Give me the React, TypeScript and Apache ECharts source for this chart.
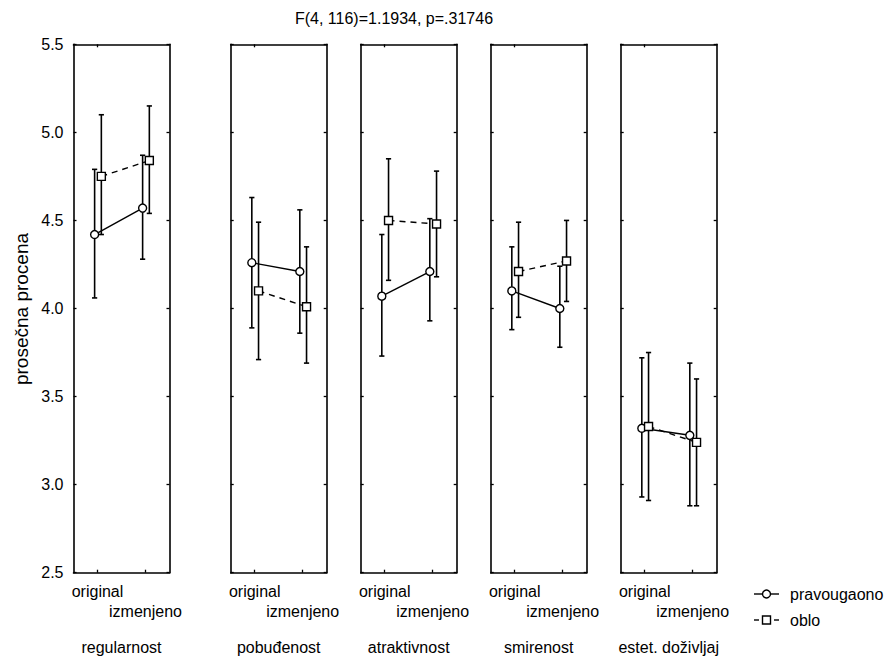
import React, { useEffect, useRef } from "react";
import * as echarts from "echarts";

const panelNames = ["regularnost", "pobuđenost", "atraktivnost", "smirenost", "estet. doživljaj"];
const conditions = ["original", "izmenjeno"];
const yTicks = [2.5, 5.5, 0.5]; // min, max, interval

// pravougaono (circles, solid line)
const pravMean = [[4.42, 4.57], [4.26, 4.21], [4.07, 4.21], [4.10, 4.00], [3.32, 3.28]];
const pravLow = [[4.06, 4.28], [3.89, 3.86], [3.73, 3.93], [3.88, 3.78], [2.93, 2.88]];
const pravHigh = [[4.79, 4.87], [4.63, 4.56], [4.42, 4.51], [4.35, 4.24], [3.72, 3.69]];

// oblo (squares, dashed line)
const obloMean = [[4.75, 4.84], [4.10, 4.01], [4.50, 4.48], [4.21, 4.27], [3.33, 3.24]];
const obloLow = [[4.42, 4.54], [3.71, 3.69], [4.16, 4.18], [3.95, 4.04], [2.91, 2.88]];
const obloHigh = [[5.10, 5.15], [4.49, 4.35], [4.85, 4.78], [4.49, 4.50], [3.75, 3.60]];

const title = "F(4, 116)=1.1934, p=.31746";
const yName = "prosečna procena";
const legendNames = ["pravougaono", "oblo"];

const FONT = "'Liberation Sans', Arial, sans-serif";
const panelLefts = [73.5, 230.7, 360.7, 490.7, 620.7];
const panelW = 96;
const panelTop = 44.3;
const panelH = 528.4;
const dodgeCircle = -0.12;
const dodgeSquare = 0.16;

function errorBarRender(params: any, api: any) {
  const x = api.value(0);
  const lo = api.value(1);
  const hi = api.value(2);
  const p1 = api.coord([x, hi]);
  const p2 = api.coord([x, lo]);
  const cap = 2.6;
  const st = { stroke: "#000", lineWidth: 1.6 };
  return {
    type: "group",
    children: [
      { type: "line", shape: { x1: p1[0], y1: p1[1], x2: p2[0], y2: p2[1] }, style: st },
      { type: "line", shape: { x1: p1[0] - cap, y1: p1[1], x2: p1[0] + cap, y2: p1[1] }, style: st },
      { type: "line", shape: { x1: p2[0] - cap, y1: p2[1], x2: p2[0] + cap, y2: p2[1] }, style: st },
    ],
  };
}

export default function App() {
  const ref = useRef<HTMLDivElement>(null);
  useEffect(() => {
    if (!ref.current) return;
    const chart = echarts.init(ref.current, null, { renderer: "svg" });
    const grids: any[] = [];
    const xAxes: any[] = [];
    const yAxes: any[] = [];
    const series: any[] = [];
    const axisLine = { show: true, lineStyle: { color: "#000", width: 1.6 } };
    const axisTick = { show: true, inside: true, length: 3, lineStyle: { color: "#000", width: 1.3 } };

    panelNames.forEach((name, i) => {
      grids.push({
        left: panelLefts[i],
        top: panelTop,
        width: panelW,
        height: panelH,
        containLabel: false,
        outerBoundsMode: "none",
      });
      xAxes.push({
        type: "category",
        gridIndex: i,
        position: "bottom",
        data: conditions,
        axisLine,
        axisTick: { ...axisTick, alignWithLabel: true },
        axisLabel: {
          interval: 0,
          color: "#000",
          fontSize: 16,
          fontFamily: FONT,
          lineHeight: 20,
          margin: 9,
          formatter: (v: string, idx: number) => (idx === 1 ? "\n" + v : v),
        },
        name,
        nameLocation: "middle",
        nameGap: 67,
        nameTextStyle: { color: "#000", fontSize: 16, fontFamily: FONT },
        splitLine: { show: false },
      });
      xAxes.push({
        type: "category",
        gridIndex: i,
        position: "top",
        data: conditions,
        axisLine,
        axisTick: { ...axisTick, alignWithLabel: true },
        axisLabel: { show: false },
        splitLine: { show: false },
      });
      xAxes.push({ type: "value", gridIndex: i, min: 0, max: 4, show: false });
      yAxes.push({
        type: "value",
        gridIndex: i,
        position: "left",
        min: yTicks[0],
        max: yTicks[1],
        interval: yTicks[2],
        axisLine,
        axisTick,
        splitLine: { show: false },
        axisLabel: {
          show: i === 0,
          color: "#000",
          fontSize: 16,
          fontFamily: FONT,
          margin: 10,
          formatter: (v: number) => v.toFixed(1),
        },
      });
      yAxes.push({
        type: "value",
        gridIndex: i,
        position: "right",
        min: yTicks[0],
        max: yTicks[1],
        interval: yTicks[2],
        axisLine,
        axisTick,
        splitLine: { show: false },
        axisLabel: { show: false },
      });
      const xi = i * 3 + 2;
      const yi = i * 2;
      const circleX = conditions.map((_, k) => 1 + 2 * k + dodgeCircle);
      const squareX = conditions.map((_, k) => 1 + 2 * k + dodgeSquare);
      series.push({
        type: "custom",
        xAxisIndex: xi,
        yAxisIndex: yi,
        renderItem: errorBarRender,
        encode: { x: 0, y: [1, 2] },
        data: conditions.map((_, k) => [circleX[k], pravLow[i][k], pravHigh[i][k]]),
        z: 2,
      });
      series.push({
        type: "custom",
        xAxisIndex: xi,
        yAxisIndex: yi,
        renderItem: errorBarRender,
        encode: { x: 0, y: [1, 2] },
        data: conditions.map((_, k) => [squareX[k], obloLow[i][k], obloHigh[i][k]]),
        z: 2,
      });
      series.push({
        type: "line",
        name: legendNames[0],
        xAxisIndex: xi,
        yAxisIndex: yi,
        data: conditions.map((_, k) => [circleX[k], pravMean[i][k]]),
        symbol: "circle",
        symbolSize: 8,
        lineStyle: { color: "#000", width: 1.4 },
        itemStyle: { color: "#fff", borderColor: "#000", borderWidth: 1.4 },
        z: 4,
      });
      series.push({
        type: "line",
        name: legendNames[1],
        xAxisIndex: xi,
        yAxisIndex: yi,
        data: conditions.map((_, k) => [squareX[k], obloMean[i][k]]),
        symbol: "rect",
        symbolSize: 8,
        lineStyle: { color: "#000", width: 1.4, type: [6, 5] },
        itemStyle: { color: "#fff", borderColor: "#000", borderWidth: 1.4 },
        z: 4,
      });
    });

    const txt = { fill: "#000", fontSize: 16, fontFamily: FONT };
    const graphic: any[] = [
      { type: "text", x: 394, y: 18, style: { ...txt, text: title, align: "center", verticalAlign: "middle" } },
      { type: "text", x: 21, y: 309, rotation: Math.PI / 2, style: { ...txt, fontSize: 19, text: yName, align: "center", verticalAlign: "middle" } },
      // legend
      { type: "line", shape: { x1: 754, y1: 594, x2: 779, y2: 594 }, style: { stroke: "#000", lineWidth: 1.4 } },
      { type: "circle", shape: { cx: 766.5, cy: 594, r: 4 }, style: { fill: "#fff", stroke: "#000", lineWidth: 1.4 } },
      { type: "text", x: 790, y: 594, style: { ...txt, text: legendNames[0], verticalAlign: "middle" } },
      { type: "line", shape: { x1: 754, y1: 620, x2: 759, y2: 620 }, style: { stroke: "#000", lineWidth: 1.4 } },
      { type: "line", shape: { x1: 774, y1: 620, x2: 779, y2: 620 }, style: { stroke: "#000", lineWidth: 1.4 } },
      { type: "rect", shape: { x: 762.5, y: 616, width: 8, height: 8 }, style: { fill: "#fff", stroke: "#000", lineWidth: 1.4 } },
      { type: "text", x: 790, y: 620, style: { ...txt, text: legendNames[1], verticalAlign: "middle" } },
    ];

    chart.setOption({
      animation: false,
      backgroundColor: "#fff",
      grid: grids,
      xAxis: xAxes,
      yAxis: yAxes,
      series,
      graphic,
    });
    return () => chart.dispose();
  }, []);
  return <div ref={ref} style={{ position: "fixed", left: 0, top: 0, width: 884, height: 656 }} />;
}
